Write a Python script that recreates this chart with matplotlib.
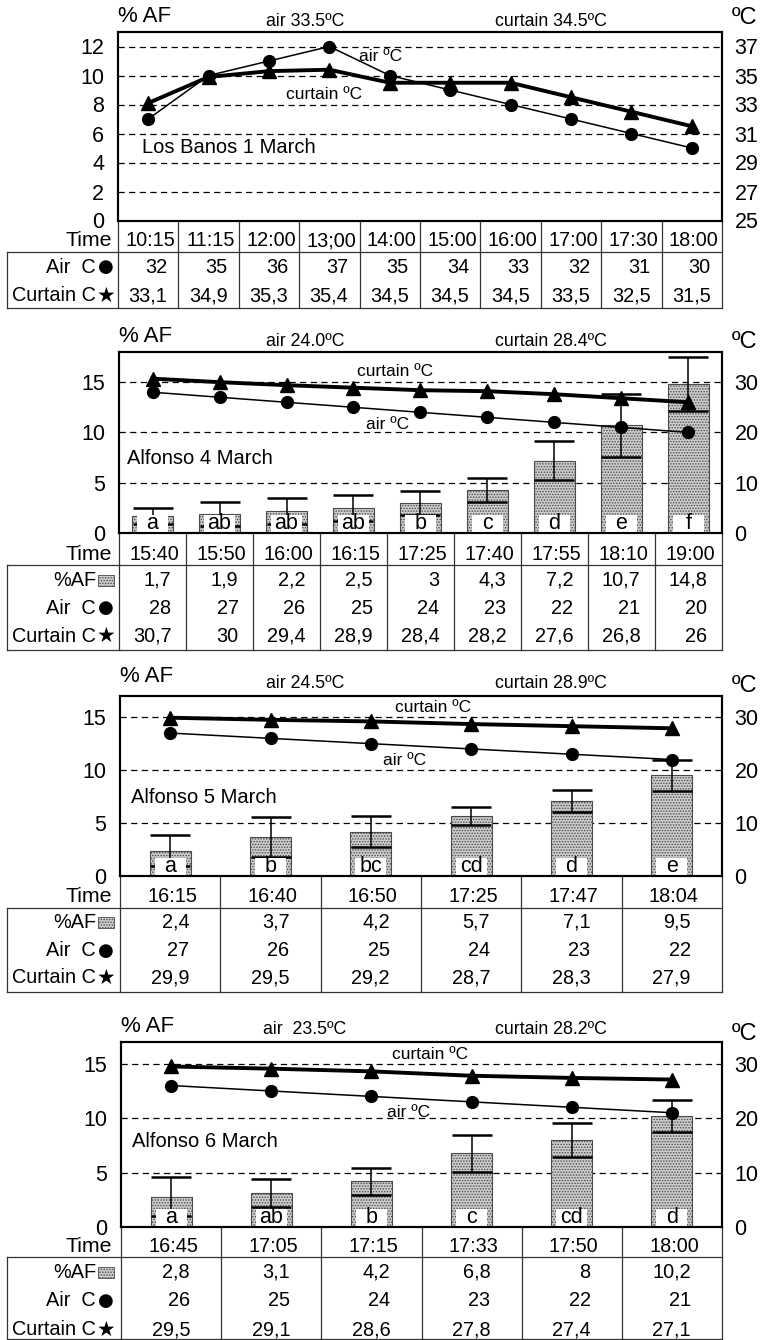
import matplotlib.pyplot as plt
import numpy as np
from matplotlib.patches import Rectangle
from matplotlib import font_manager
from matplotlib.transforms import blended_transform_factory

plt.rcParams['font.family'] = ['Liberation Sans', 'DejaVu Sans']
plt.rcParams['hatch.linewidth'] = 0.7

# narrow face for the table text if it is installed
have_narrow = any(f.name == 'Liberation Sans Narrow' for f in font_manager.fontManager.ttflist)
if have_narrow:
    TFONT = ['Liberation Sans Narrow', 'DejaVu Sans']
    TSIZE, HSIZE = 16, 14
else:
    TFONT = ['Liberation Sans', 'DejaVu Sans']
    TSIZE, HSIZE = 14.3, 12.8

W, H = 763, 1340

# ---------------- data ----------------
times1 = ['10:15', '11:15', '12:00', '13;00', '14:00', '15:00', '16:00', '17:00', '17:30', '18:00']
air1 = [32, 35, 36, 37, 35, 34, 33, 32, 31, 30]
curt1 = [33.1, 34.9, 35.3, 35.4, 34.5, 34.5, 34.5, 33.5, 32.5, 31.5]
air1_txt = ['32', '35', '36', '37', '35', '34', '33', '32', '31', '30']
curt1_txt = ['33,1', '34,9', '35,3', '35,4', '34,5', '34,5', '34,5', '33,5', '32,5', '31,5']

times2 = ['15:40', '15:50', '16:00', '16:15', '17:25', '17:40', '17:55', '18:10', '19:00']
af2 = [1.7, 1.9, 2.2, 2.5, 3, 4.3, 7.2, 10.7, 14.8]
err2 = [0.8, 1.2, 1.3, 1.3, 1.2, 1.2, 1.9, 3.1, 2.7]
sig2 = ['a', 'ab', 'ab', 'ab', 'b', 'c', 'd', 'e', 'f']
air2 = [28, 27, 26, 25, 24, 23, 22, 21, 20]
curt2 = [30.7, 30, 29.4, 28.9, 28.4, 28.2, 27.6, 26.8, 26]
af2_txt = ['1,7', '1,9', '2,2', '2,5', '3', '4,3', '7,2', '10,7', '14,8']
curt2_txt = ['30,7', '30', '29,4', '28,9', '28,4', '28,2', '27,6', '26,8', '26']

times3 = ['16:15', '16:40', '16:50', '17:25', '17:47', '18:04']
af3 = [2.4, 3.7, 4.2, 5.7, 7.1, 9.5]
err3 = [1.5, 1.9, 1.45, 0.85, 1.05, 1.45]
sig3 = ['a', 'b', 'bc', 'cd', 'd', 'e']
air3 = [27, 26, 25, 24, 23, 22]
curt3 = [29.9, 29.5, 29.2, 28.7, 28.3, 27.9]
af3_txt = ['2,4', '3,7', '4,2', '5,7', '7,1', '9,5']
curt3_txt = ['29,9', '29,5', '29,2', '28,7', '28,3', '27,9']

times4 = ['16:45', '17:05', '17:15', '17:33', '17:50', '18:00']
af4 = [2.8, 3.1, 4.2, 6.8, 8, 10.2]
err4 = [1.8, 1.3, 1.25, 1.7, 1.6, 1.5]
sig4 = ['a', 'ab', 'b', 'c', 'cd', 'd']
air4 = [26, 25, 24, 23, 22, 21]
curt4 = [29.5, 29.1, 28.6, 27.8, 27.4, 27.1]
af4_txt = ['2,8', '3,1', '4,2', '6,8', '8', '10,2']
curt4_txt = ['29,5', '29,1', '28,6', '27,8', '27,4', '27,1']

headers = [('air 33.5ºC', 'curtain 34.5ºC'), ('air 24.0ºC', 'curtain 28.4ºC'),
           ('air 24.5ºC', 'curtain 28.9ºC'), ('air  23.5ºC', 'curtain 28.2ºC')]
places = ['Los Banos 1 March', 'Alfonso 4 March', 'Alfonso 5 March', 'Alfonso 6 March']

# ---------------- layout (pixels) ----------------
R = 722
TL = 7
layout = [
    dict(L=118, top=32, bot=220.5, ylim=(0, 13), lt=[0, 2, 4, 6, 8, 10, 12], rlim=(25, 38),
         rt=[25, 27, 29, 31, 33, 35, 37], hy=(16, 21, 18), time_y=241, line_y=252,
         rows_y=[267.5, 295.5], tab_bot=308,
         lab_air=(0.434, 0.869), lab_cur=(0.341, 0.666), lab_place=(0.039, 0.385)),
    dict(L=119, top=352, bot=533, ylim=(0, 18), lt=[0, 5, 10, 15], rlim=(0, 36),
         rt=[0, 10, 20, 30], hy=(336, 341, 342), time_y=554, line_y=565,
         rows_y=[580, 608, 636], tab_bot=650,
         lab_air=(0.446, 0.597), lab_cur=(0.458, 0.891), lab_place=(0.013, 0.409)),
    dict(L=120, top=696, bot=876, ylim=(0, 17), lt=[0, 5, 10, 15], rlim=(0, 34),
         rt=[0, 10, 20, 30], hy=(677, 684, 686), time_y=897, line_y=908,
         rows_y=[922.5, 950.5, 977.5], tab_bot=992,
         lab_air=(0.473, 0.64), lab_cur=(0.52, 0.935), lab_place=(0.019, 0.437)),
    dict(L=121, top=1042, bot=1227, ylim=(0, 17), lt=[0, 5, 10, 15], rlim=(0, 34),
         rt=[0, 10, 20, 30], hy=(1026, 1030, 1034), time_y=1247, line_y=1257,
         rows_y=[1272.5, 1300.5, 1329.5], tab_bot=1338.5,
         lab_air=(0.479, 0.618), lab_cur=(0.514, 0.935), lab_place=(0.018, 0.461)),
]

panels = [
    (times1, None, None, None, air1, curt1, [air1_txt, curt1_txt]),
    (times2, af2, err2, sig2, air2, curt2, [af2_txt, [str(v) for v in air2], curt2_txt]),
    (times3, af3, err3, sig3, air3, curt3, [af3_txt, [str(v) for v in air3], curt3_txt]),
    (times4, af4, err4, sig4, air4, curt4, [af4_txt, [str(v) for v in air4], curt4_txt]),
]

fig = plt.figure(figsize=(W / 100, H / 100), dpi=100)
ov = fig.add_axes([0, 0, 1, 1])
ov.set_xlim(0, W)
ov.set_ylim(H, 0)
ov.axis('off')

BAR_FC = '#cdcdcd'
BAR_EC = '#4a4a4a'
TAB = dict(color='#333333', lw=0.9)

for k, ((times, af, err, sig, air, curt, rows), lay) in enumerate(zip(panels, layout)):
    L, top, bot = lay['L'], lay['top'], lay['bot']
    ax = fig.add_axes([L / W, 1 - bot / H, (R - L) / W, (bot - top) / H])
    n = len(times)
    x = np.arange(n)
    cw = (R - L) / n
    ax.set_xlim(-0.5, n - 0.5)
    ax.set_ylim(*lay['ylim'])
    ax.set_yticks(lay['lt'])
    ax.set_xticks([])
    ax.tick_params(axis='y', length=0, pad=10, labelsize=15.5)
    for s in ax.spines.values():
        s.set_linewidth(1.5)
    for yv in lay['lt'][1:]:
        ax.axhline(yv, color='black', lw=0.9, ls=(0, (5, 3.5)), zorder=1)

    if af is not None:
        bw = 41 / cw
        ax.bar(x, af, width=bw, color=BAR_FC, edgecolor=BAR_EC, hatch='......', lw=0.8, zorder=2)
        ax.errorbar(x, af, yerr=err, fmt='none', ecolor='black', elinewidth=1.1,
                    capsize=14.5, capthick=1.8, zorder=3)
        # white boxes with the significance letters
        ph = bot - top
        tr = blended_transform_factory(ax.transData, ax.transAxes)
        boxw = 31 / cw
        for xi, s in zip(x, sig):
            ax.add_patch(Rectangle((xi - boxw / 2, 1.5 / ph), boxw, 17 / ph, transform=tr,
                                   facecolor='white', edgecolor='none', zorder=4))
            ax.text(xi, 4 / ph, s, transform=tr, ha='center', va='baseline',
                    fontsize=15.5, zorder=5)

    ax.text(*lay['lab_air'], 'air ºC', transform=ax.transAxes, ha='center', va='center', fontsize=12.5)
    ax.text(*lay['lab_cur'], 'curtain ºC', transform=ax.transAxes, ha='center', va='center', fontsize=12.5)
    ax.text(*lay['lab_place'], places[k], transform=ax.transAxes, ha='left', va='center', fontsize=14.5)

    axr = ax.twinx()
    axr.set_ylim(*lay['rlim'])
    axr.set_yticks(lay['rt'])
    axr.tick_params(length=0, pad=9, labelsize=15.5)
    for s in axr.spines.values():
        s.set_linewidth(1.5)
    axr.plot(x, curt, color='black', lw=2.8, marker='^', ms=9.5, zorder=3)
    axr.plot(x, air, color='black', lw=1.1, marker='o', ms=8.5, zorder=4)

    # header texts
    hy_af, hy_mid, hy_c = lay['hy']
    ov.text(L, hy_af, '% AF', ha='left', va='center', fontsize=16)
    ov.text(305, hy_mid, headers[k][0], ha='center', va='center', fontsize=HSIZE, family=TFONT)
    ov.text(551, hy_mid, headers[k][1], ha='center', va='center', fontsize=HSIZE, family=TFONT)
    ov.text(744, hy_c, 'ºC', ha='center', va='center', fontsize=17)

    # table
    ty = lay['time_y']
    ov.text(112, ty, 'Time', ha='right', va='center', fontsize=TSIZE + 1, family=TFONT)
    for i, t in enumerate(times):
        ov.text(L + (i + 0.5) * cw + 2, ty, t, ha='center', va='center', fontsize=TSIZE, family=TFONT)
    for c in range(n + 1):
        ov.plot([L + c * cw] * 2, [bot, lay['tab_bot']], **TAB)
    ov.plot([TL, R], [lay['line_y']] * 2, **TAB)
    ov.plot([TL, R], [lay['tab_bot']] * 2, **TAB)
    ov.plot([TL, TL], [lay['line_y'], lay['tab_bot']], **TAB)

    names = ['Air  C', 'Curtain C'] if af is None else ['%AF', 'Air  C', 'Curtain C']
    for ry, name, vals in zip(lay['rows_y'], names, rows):
        ov.text(96, ry, name, ha='right', va='center', fontsize=TSIZE, family=TFONT)
        if name == '%AF':
            ov.add_patch(Rectangle((98, ry - 5.5), 16, 11, facecolor=BAR_FC, edgecolor=BAR_EC,
                                   hatch='......', lw=0.6))
        elif name.startswith('Air'):
            ov.text(106, ry, '●', ha='center', va='center', fontsize=13, family=['DejaVu Sans'])
        else:
            ov.text(106, ry, '★', ha='center', va='center', fontsize=15, family=['DejaVu Sans'])
        for i, v in enumerate(vals):
            ov.text(L + (i + 0.5) * cw + 19, ry, v, ha='right', va='center', fontsize=TSIZE,
                    family=TFONT)

fig.savefig('out.png', dpi=100)
